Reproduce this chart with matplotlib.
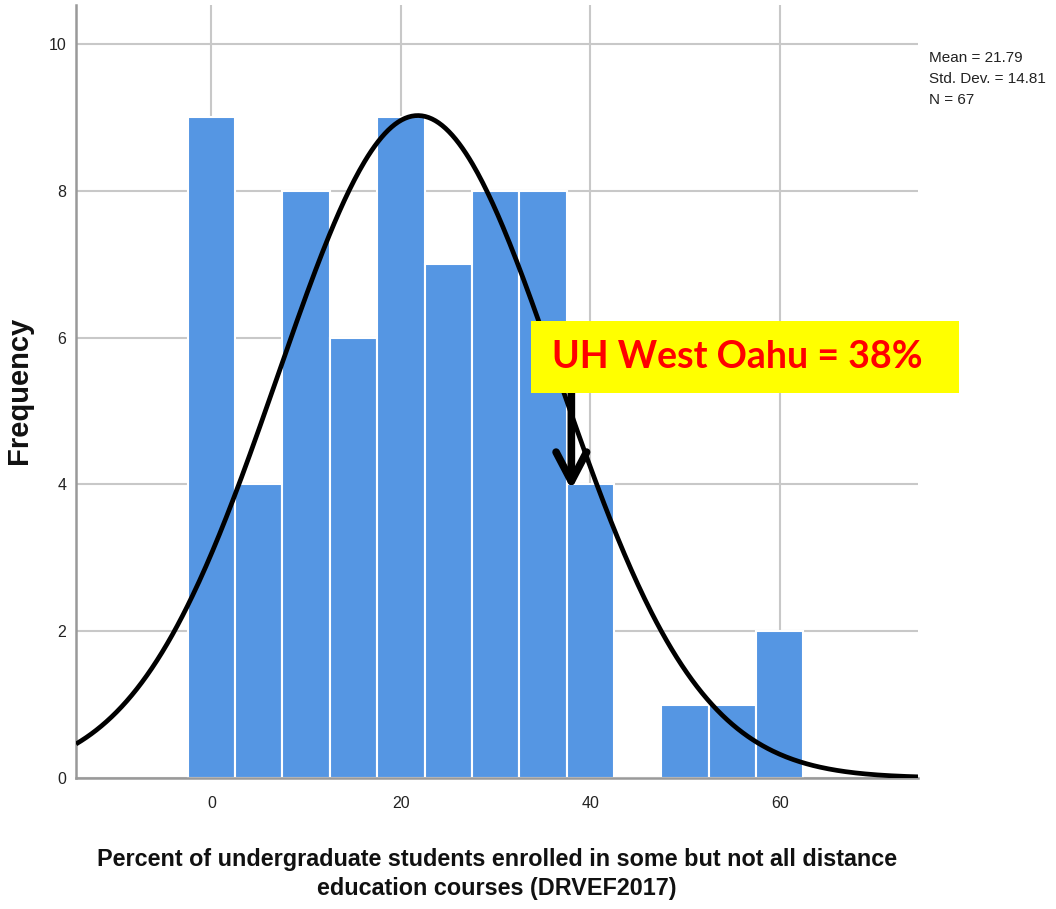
import numpy as np
import matplotlib
matplotlib.use("Agg")
import matplotlib.pyplot as plt
from matplotlib.patches import Rectangle

# ---- data ----
bin_centers = [0, 5, 10, 15, 20, 25, 30, 35, 40, 45, 50, 55, 60]
counts = [9, 4, 8, 6, 9, 7, 8, 8, 4, 0, 1, 1, 2]
bin_width = 5
mean_val = 21.79
sd_val = 14.81
n_val = 67
x_ticks = [0, 20, 40, 60]
y_ticks = [0, 2, 4, 6, 8, 10]
highlight_x = 38
highlight_label = "UH West Oahu = 38%"
xlabel = "Percent of undergraduate students enrolled in some but not all distance\neducation courses (DRVEF2017)"

font = "Liberation Sans"

fig = plt.figure(figsize=(10.56, 9.09), dpi=100)
ax = fig.add_axes([76/1056, 1-778/909, (918-76)/1056, (778-5)/909])

ax.bar(bin_centers, counts, width=bin_width, color="#5596E3",
       edgecolor="white", linewidth=1.5, zorder=2)

xs = np.linspace(-14.3, 74.6, 500)
pdf = n_val * bin_width / (sd_val * np.sqrt(2*np.pi)) * np.exp(-0.5*((xs-mean_val)/sd_val)**2)
ax.plot(xs, pdf, color="black", lw=3.4, zorder=3, solid_capstyle="butt")

ax.set_xlim(-14.3, 74.6)
ax.set_ylim(0, 10.53)
ax.set_xticks(x_ticks)
ax.set_yticks(y_ticks)
ax.grid(True, color="#C8C8C8", lw=1.5, zorder=0)
ax.set_axisbelow(True)
for s in ["top", "right"]:
    ax.spines[s].set_visible(False)
for s in ["left", "bottom"]:
    ax.spines[s].set_color("#999999")
    ax.spines[s].set_linewidth(1.8)
ax.tick_params(length=0, labelsize=11.5, colors="#222222")
ax.tick_params(axis="y", pad=7)
ax.tick_params(axis="x", pad=13)
for lab in ax.get_xticklabels() + ax.get_yticklabels():
    lab.set_family(font)

fig.text(497/1056, 1-874/909, xlabel, family=font, fontsize=16.8, fontweight="bold",
         ha="center", va="center", linespacing=1.3, color="#111111")
fig.text(19/1056, 1-390/909, "Frequency", family=font, fontsize=21, fontweight="bold",
         rotation=90, ha="center", va="center", color="#111111")

fig.text(929/1056, 1-51/909, f"Mean = {mean_val}\nStd. Dev. = {sd_val}\nN = {n_val}",
         family=font, fontsize=11, va="top", ha="left", linespacing=1.65, color="#222222")

# annotation box
fig.patches.append(Rectangle((531/1056, 1-393/909), (959-531)/1056, (393-321)/909,
                             transform=fig.transFigure, facecolor="#FFFF00", edgecolor="none", zorder=5))
fig.text(552/1056, 1-357/909, highlight_label, family=["Lato", "DejaVu Sans"], fontweight="bold",
         fontsize=27, color="#FF0000", va="center", ha="left", zorder=6)

ax.annotate("", xy=(highlight_x, 3.93), xytext=(highlight_x, 5.25),
            arrowprops=dict(arrowstyle="->,head_length=2.1,head_width=1.1", lw=5.5, color="black",
                            shrinkA=0, shrinkB=0),
            zorder=7, annotation_clip=False)

fig.savefig("out.png", dpi=100)
